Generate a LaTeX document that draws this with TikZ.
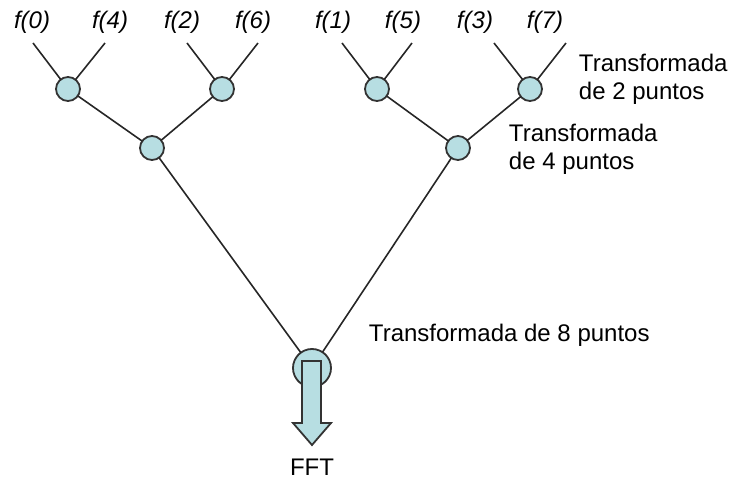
\documentclass[tikz,border=0pt]{standalone}
\usepackage{fontspec}
\setmainfont{Liberation Sans}
\begin{document}
\begin{tikzpicture}[x=0.5pt,y=-0.5pt,
  every node/.style={inner sep=0pt,outer sep=0pt},
  bfly/.style={circle,draw=black!80,line width=0.9pt,fill=cyanfill,minimum size=12pt},
  bigfly/.style={circle,draw=black!80,line width=0.9pt,fill=cyanfill,minimum size=19pt},
  lbl/.style={font=\fontsize{12}{14}\selectfont\itshape},
  txt/.style={font=\fontsize{12}{14}\selectfont,align=left,anchor=west},
  wire/.style={line width=0.8pt,draw=black!85}]
\definecolor{cyanfill}{RGB}{183,222,226}
\useasboundingbox (0,0) rectangle (736,482);
% inputs
\node[lbl] (f0) at (32,22) {f(0)};
\node[lbl] (f4) at (110,22) {f(4)};
\node[lbl] (f2) at (182,22) {f(2)};
\node[lbl] (f6) at (253,22) {f(6)};
\node[lbl] (f1) at (333,22) {f(1)};
\node[lbl] (f5) at (403,22) {f(5)};
\node[lbl] (f3) at (475,22) {f(3)};
\node[lbl] (f7) at (545,22) {f(7)};
\coordinate (t0) at (33,43);
\coordinate (t4) at (105,43);
\coordinate (t2) at (187,43);
\coordinate (t6) at (258,43);
\coordinate (t1) at (342,43);
\coordinate (t5) at (412,43);
\coordinate (t3) at (494,43);
\coordinate (t7) at (566,43);
% butterflies
\node[bfly] (a1) at (68,89) {};
\node[bfly] (a2) at (222,89) {};
\node[bfly] (a3) at (377,89) {};
\node[bfly] (a4) at (530,89) {};
\node[bfly] (b1) at (152,148) {};
\node[bfly] (b2) at (458,148) {};
\node[bigfly] (c) at (312,368) {};
% wires
\draw[wire] (t0) -- (a1); \draw[wire] (t4) -- (a1);
\draw[wire] (t2) -- (a2); \draw[wire] (t6) -- (a2);
\draw[wire] (t1) -- (a3); \draw[wire] (t5) -- (a3);
\draw[wire] (t3) -- (a4); \draw[wire] (t7) -- (a4);
\draw[wire] (a1) -- (b1); \draw[wire] (a2) -- (b1);
\draw[wire] (a3) -- (b2); \draw[wire] (a4) -- (b2);
\draw[wire] (b1) -- (c); \draw[wire] (b2) -- (c);
% output arrow
\draw[draw=black!80,line width=0.9pt,fill=cyanfill,line join=miter]
  (302,361) -- (321,361) -- (321,423) -- (331,423) -- (312,445) -- (293,423) -- (302,423) -- cycle;
% labels
\node[txt] (l2) at (579,79) {Transformada\\de 2 puntos};
\node[txt] (l4) at (509,149) {Transformada\\de 4 puntos};
\node[txt] (l8) at (369,335) {Transformada de 8 puntos};
\node[font=\fontsize{12}{14}\selectfont] (fft) at (312,467) {FFT};
\end{tikzpicture}
\end{document}
